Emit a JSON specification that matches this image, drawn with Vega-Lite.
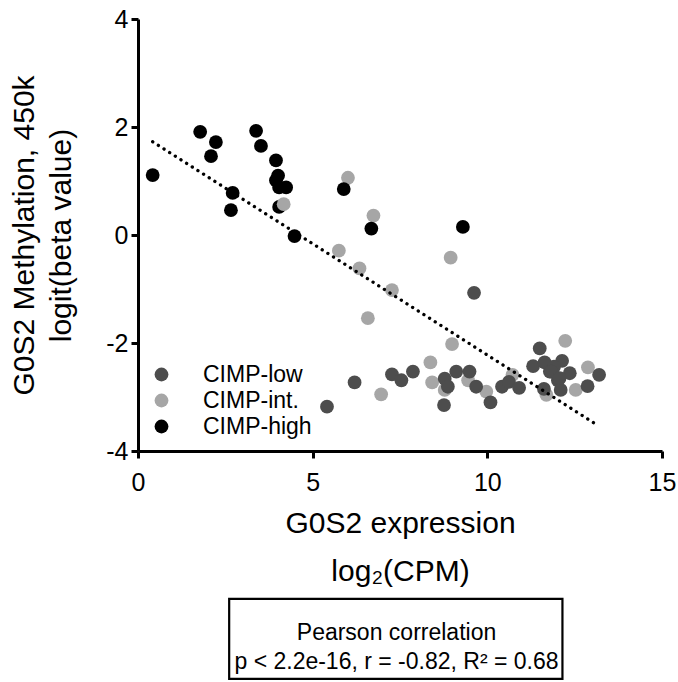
{
  "$schema": "https://vega.github.io/schema/vega-lite/v6.json",
  "width": 524,
  "height": 432,
  "padding": {"left": 9, "top": 7, "right": 5, "bottom": 0},
  "config": {"view": {"stroke": null}, "font": "Liberation Sans"},
  "layer": [
    {
      "data": {
        "values": [
          {"group": "CIMP-int.", "expr": 6.01, "meth": 1.06},
          {"group": "CIMP-int.", "expr": 6.74, "meth": 0.36},
          {"group": "CIMP-int.", "expr": 5.75, "meth": -0.29},
          {"group": "CIMP-int.", "expr": 6.34, "meth": -0.62},
          {"group": "CIMP-int.", "expr": 7.27, "meth": -1.02},
          {"group": "CIMP-int.", "expr": 8.95, "meth": -0.42},
          {"group": "CIMP-int.", "expr": 6.58, "meth": -1.54},
          {"group": "CIMP-int.", "expr": 6.96, "meth": -2.95},
          {"group": "CIMP-int.", "expr": 8.37, "meth": -2.36},
          {"group": "CIMP-int.", "expr": 8.42, "meth": -2.73},
          {"group": "CIMP-int.", "expr": 8.99, "meth": -2.02},
          {"group": "CIMP-int.", "expr": 8.78, "meth": -2.87},
          {"group": "CIMP-int.", "expr": 9.45, "meth": -2.69},
          {"group": "CIMP-int.", "expr": 9.97, "meth": -2.9},
          {"group": "CIMP-int.", "expr": 10.72, "meth": -2.59},
          {"group": "CIMP-int.", "expr": 12.23, "meth": -1.96},
          {"group": "CIMP-int.", "expr": 11.69, "meth": -2.96},
          {"group": "CIMP-int.", "expr": 12.53, "meth": -2.87},
          {"group": "CIMP-int.", "expr": 12.88, "meth": -2.45},
          {"group": "CIMP-low", "expr": 9.62, "meth": -1.07},
          {"group": "CIMP-low", "expr": 5.41, "meth": -3.18},
          {"group": "CIMP-low", "expr": 6.2, "meth": -2.73},
          {"group": "CIMP-low", "expr": 7.27, "meth": -2.58},
          {"group": "CIMP-low", "expr": 7.54, "meth": -2.69},
          {"group": "CIMP-low", "expr": 7.87, "meth": -2.53},
          {"group": "CIMP-low", "expr": 8.78, "meth": -2.66},
          {"group": "CIMP-low", "expr": 8.87, "meth": -2.81},
          {"group": "CIMP-low", "expr": 9.11, "meth": -2.53},
          {"group": "CIMP-low", "expr": 8.76, "meth": -3.15},
          {"group": "CIMP-low", "expr": 9.49, "meth": -2.53},
          {"group": "CIMP-low", "expr": 9.68, "meth": -2.81},
          {"group": "CIMP-low", "expr": 10.09, "meth": -3.1},
          {"group": "CIMP-low", "expr": 10.42, "meth": -2.81},
          {"group": "CIMP-low", "expr": 10.62, "meth": -2.72},
          {"group": "CIMP-low", "expr": 10.91, "meth": -2.83},
          {"group": "CIMP-low", "expr": 11.5, "meth": -2.1},
          {"group": "CIMP-low", "expr": 11.31, "meth": -2.43},
          {"group": "CIMP-low", "expr": 11.64, "meth": -2.36},
          {"group": "CIMP-low", "expr": 12.14, "meth": -2.33},
          {"group": "CIMP-low", "expr": 12.36, "meth": -2.56},
          {"group": "CIMP-low", "expr": 11.79, "meth": -2.53},
          {"group": "CIMP-low", "expr": 12.02, "meth": -2.69},
          {"group": "CIMP-low", "expr": 11.62, "meth": -2.85},
          {"group": "CIMP-low", "expr": 12.1, "meth": -2.87},
          {"group": "CIMP-low", "expr": 11.91, "meth": -2.44},
          {"group": "CIMP-low", "expr": 12.87, "meth": -2.8},
          {"group": "CIMP-low", "expr": 13.2, "meth": -2.59},
          {"group": "CIMP-low", "expr": 11.83, "meth": -2.53},
          {"group": "CIMP-low", "expr": 12.07, "meth": -2.65},
          {"group": "CIMP-high", "expr": 0.42, "meth": 1.11},
          {"group": "CIMP-high", "expr": 1.78, "meth": 1.91},
          {"group": "CIMP-high", "expr": 2.23, "meth": 1.72},
          {"group": "CIMP-high", "expr": 2.09, "meth": 1.46},
          {"group": "CIMP-high", "expr": 2.71, "meth": 0.78},
          {"group": "CIMP-high", "expr": 2.66, "meth": 0.46},
          {"group": "CIMP-high", "expr": 3.38, "meth": 1.93},
          {"group": "CIMP-high", "expr": 3.52, "meth": 1.65},
          {"group": "CIMP-high", "expr": 3.95, "meth": 1.38},
          {"group": "CIMP-high", "expr": 4.01, "meth": 1.1},
          {"group": "CIMP-high", "expr": 3.95, "meth": 1.01},
          {"group": "CIMP-high", "expr": 4.24, "meth": 0.88},
          {"group": "CIMP-high", "expr": 4.04, "meth": 0.88},
          {"group": "CIMP-high", "expr": 4.04, "meth": 0.52},
          {"group": "CIMP-high", "expr": 4.48, "meth": -0.02},
          {"group": "CIMP-high", "expr": 5.89, "meth": 0.85},
          {"group": "CIMP-high", "expr": 6.68, "meth": 0.12},
          {"group": "CIMP-high", "expr": 9.3, "meth": 0.15},
          {"group": "CIMP-int.", "expr": 4.17, "meth": 0.57}
        ]
      },
      "mark": {"type": "point", "filled": true, "opacity": 1, "size": 190, "shape": "circle", "strokeWidth": 0},
      "encoding": {
        "x": {
          "field": "expr", "type": "quantitative",
          "scale": {"domain": [0, 15], "nice": false, "zero": false},
          "axis": {
            "values": [0, 5, 10, 15], "grid": false,
            "title": ["G0S2 expression", "log₂(CPM)"],
            "titleFontSize": 30, "titleFontWeight": "normal", "titleColor": "black", "titleLineHeight": 48, "titlePadding": 13,
            "labelFontSize": 25, "labelColor": "black", "labelPadding": 12, "labelFlush": false,
            "domainColor": "black", "domainWidth": 3, "tickColor": "black", "tickWidth": 3, "tickSize": 7
          }
        },
        "y": {
          "field": "meth", "type": "quantitative",
          "scale": {"domain": [-4, 4], "nice": false, "zero": false},
          "axis": {
            "values": [-4, -2, 0, 2, 4], "grid": false,
            "labelExpr": "replace(datum.label, '\u2212', '-')",
            "title": ["G0S2 Methylation, 450k", "logit(beta value)"],
            "titleFontSize": 30, "titleFontWeight": "normal", "titleColor": "black", "titleLineHeight": 37, "titlePadding": 29,
            "labelFontSize": 25, "labelColor": "black", "labelPadding": 3, "labelFlush": false,
            "domainColor": "black", "domainWidth": 3, "tickColor": "black", "tickWidth": 3, "tickSize": 7
          }
        },
        "color": {
          "field": "group", "type": "nominal",
          "scale": {"domain": ["CIMP-low", "CIMP-int.", "CIMP-high"], "range": ["#4d4d4d", "#a6a6a6", "#000000"]},
          "legend": {
            "title": null, "orient": "bottom-left", "offset": 12,
            "labelFontSize": 23, "labelColor": "black", "labelOffset": 30,
            "symbolSize": 190, "symbolType": "circle", "symbolStrokeWidth": 0, "symbolOpacity": 1,
            "rowPadding": 2
          }
        }
      }
    },
    {
      "data": {"values": [{}]},
      "mark": {"type": "rule", "strokeDash": [0.1, 6.6], "strokeCap": "round", "strokeWidth": 3.3, "color": "black"},
      "encoding": {
        "x": {"datum": 0.42},
        "y": {"datum": 1.727},
        "x2": {"datum": 13.05},
        "y2": {"datum": -3.48}
      }
    },
    {
      "data": {"values": [{}]},
      "mark": {"type": "rect", "fill": "white", "stroke": "black", "strokeWidth": 2.2},
      "encoding": {
        "x": {"datum": 2.61},
        "x2": {"datum": 12.15},
        "y": {"datum": -6.74},
        "y2": {"datum": -8.22}
      }
    },
    {
      "data": {"values": [{}]},
      "mark": {"type": "text", "text": ["Pearson correlation", "p < 2.2e-16, r = -0.82, R² = 0.68"], "fontSize": 23, "lineHeight": 29, "align": "center", "baseline": "middle", "color": "black"},
      "encoding": {
        "x": {"datum": 7.4},
        "y": {"datum": -7.37}
      }
    }
  ]
}
